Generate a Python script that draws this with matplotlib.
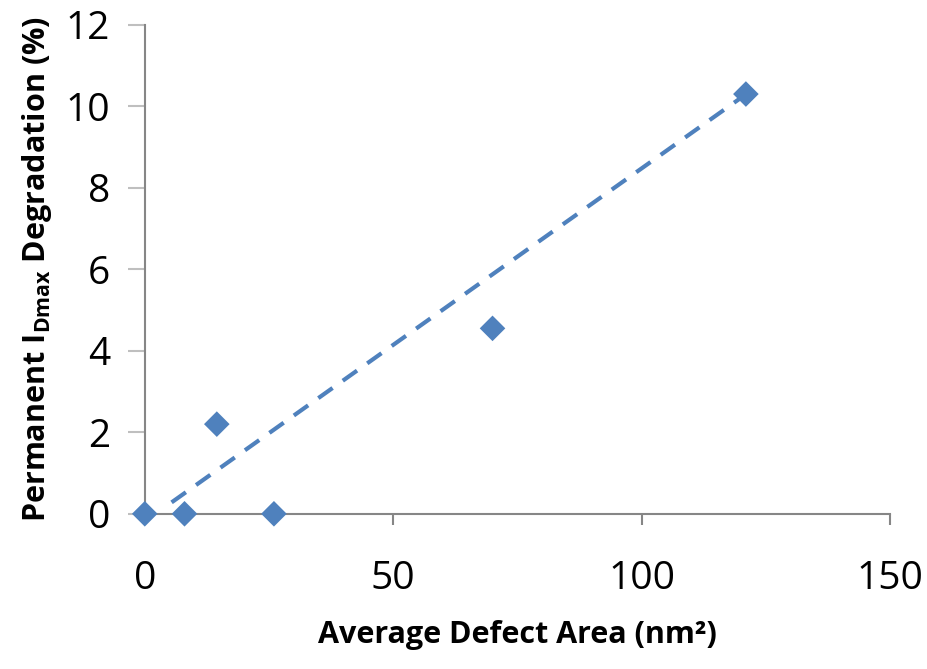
import matplotlib
matplotlib.use("Agg")
import matplotlib.pyplot as plt

plt.rcParams['font.family'] = ['Open Sans', 'DejaVu Sans']
plt.rcParams['mathtext.fontset'] = 'custom'
plt.rcParams['mathtext.rm'] = 'Open Sans:bold'
plt.rcParams['mathtext.default'] = 'rm'

# data
defect_area = [0, 8, 14.5, 26, 70, 121]
degradation = [0, 0, 2.2, 0, 4.55, 10.3]

# trend line endpoints as drawn in the reference
trend_x = [5.4, 120.5]
trend_y = [0.28, 10.25]

x_ticks = [0, 50, 100, 150]
y_ticks = [0, 2, 4, 6, 8, 10, 12]

blue = '#4F81BD'
grey = '#868686'

fig = plt.figure(figsize=(9.28, 6.69), dpi=100)
ax = fig.add_axes([0.156, 0.232, 0.803, 0.731])

ax.plot(trend_x, trend_y, color=blue, lw=3, ls=(0, (4.2, 3)),
        dash_capstyle='butt', zorder=2)
ax.scatter(defect_area, degradation, marker='D', s=170, color=blue,
           edgecolor='none', zorder=3, clip_on=False)

ax.set_xlim(0, 150)
ax.set_ylim(0, 12)
ax.set_xticks(x_ticks)
ax.set_yticks(y_ticks)

for s in ['top', 'right']:
    ax.spines[s].set_visible(False)
for s in ['left', 'bottom']:
    ax.spines[s].set_color(grey)
    ax.spines[s].set_linewidth(1.5)

ax.tick_params(axis='y', length=12, width=1.5, color='#BFBFBF', pad=13,
               labelsize=28)
ax.tick_params(axis='x', length=8, width=1.5, color=grey, pad=25,
               labelsize=28)

ax.set_xlabel('Average Defect Area (nm²)', fontsize=22, fontweight='bold',
              labelpad=16)
ax.set_ylabel(r'Permanent I$_{Dmax}$ Degradation (%)', fontsize=22,
              fontweight='bold', labelpad=8)

fig.savefig('out.png', dpi=100)
